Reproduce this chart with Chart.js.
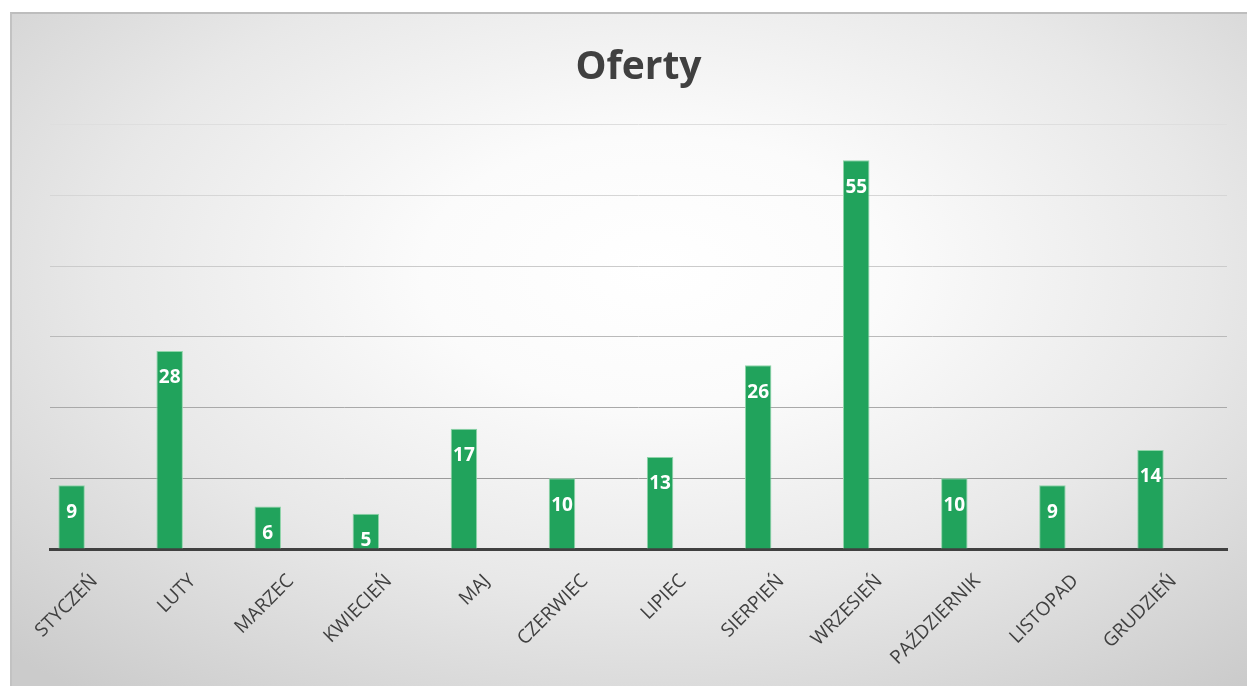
<!DOCTYPE html>
<html>
<head>
<meta charset="utf-8">
<script src="https://cdn.jsdelivr.net/npm/chart.js@4/dist/chart.umd.min.js"></script>
<style>
    body { margin: 0; background: #fff; }
    .chart-box {
        position: absolute;
        left: 10px;
        top: 12px;
        width: 1235px;
        height: 672px;
        border-top: 2px solid #bdbdbd;
        border-left: 2px solid #c2c2c2;
        background: radial-gradient(ellipse 75% 80% at 52% 38%, #ffffff 0%, #fbfbfb 25%, #e8e8e8 60%, #cbcbcb 100%);
    }
</style>
</head>
<body>
<div class="chart-box">
    <canvas id="ofertyChart" width="1235" height="672"></canvas>
</div>
<script>
const months = ['STYCZEŃ', 'LUTY', 'MARZEC', 'KWIECIEŃ', 'MAJ', 'CZERWIEC', 'LIPIEC', 'SIERPIEŃ', 'WRZESIEŃ', 'PAŹDZIERNIK', 'LISTOPAD', 'GRUDZIEŃ'];
const offers = [9, 28, 6, 5, 17, 10, 13, 26, 55, 10, 9, 14];
const yTicks = [0, 10, 20, 30, 40, 50, 60];

// gridlines get darker towards the bottom, like in the original
const gridColors = { 10: '#9a9a9a', 20: '#a9a9a9', 30: '#bababa', 40: '#cbcbcb', 50: '#d6d6d6', 60: '#dedede' };

// values inside the top of each bar
const barValuesPlugin = {
    id: 'barValues',
    afterDatasetsDraw(chart) {
        const { ctx } = chart;
        const meta = chart.getDatasetMeta(0);
        ctx.save();
        ctx.font = 'bold 19px "Open Sans"';
        ctx.fillStyle = '#ffffff';
        ctx.textAlign = 'center';
        ctx.textBaseline = 'middle';
        meta.data.forEach((bar, i) => {
            ctx.fillText(offers[i], bar.x, bar.y + 27);
        });
        ctx.restore();
    }
};

// rotated month names, drawn by hand so they don't push the chart area around
const monthLabelsPlugin = {
    id: 'monthLabels',
    afterDraw(chart) {
        const { ctx, scales: { x, y } } = chart;
        const base = y.getPixelForValue(0);
        ctx.save();
        ctx.font = '19px "Open Sans"';
        ctx.fillStyle = '#404040';
        ctx.textAlign = 'right';
        ctx.textBaseline = 'middle';
        months.forEach((m, i) => {
            ctx.save();
            ctx.translate(x.getPixelForValue(i) + 23, base + 29);
            ctx.rotate(-Math.PI / 4);
            ctx.fillText(m, 0, 0);
            ctx.restore();
        });
        ctx.restore();
    }
};

const ctx = document.getElementById('ofertyChart').getContext('2d');
new Chart(ctx, {
    type: 'bar',
    data: {
        datasets: [{
            data: offers.map((v, i) => ({ x: i, y: v })),
            backgroundColor: '#21a35c',
            borderColor: '#8fd4a9',
            borderWidth: 1,
            categoryPercentage: 1,
            barPercentage: 0.27
        }]
    },
    options: {
        responsive: false,
        animation: false,
        layout: { padding: { left: 38, right: 20, top: 0, bottom: 0 } },
        plugins: {
            legend: { display: false },
            tooltip: { enabled: false },
            title: {
                display: true,
                text: 'Oferty',
                color: '#404040',
                font: { family: 'Open Sans', size: 39, weight: 'bold' },
                padding: { top: 30, bottom: 34 }
            }
        },
        scales: {
            x: {
                type: 'linear',
                offset: false,
                min: -0.22,
                max: 11.78,
                grid: { display: false },
                border: { display: true, color: '#404040', width: 3 },
                ticks: { display: false },
                afterFit: (scale) => { scale.height = 137; }
            },
            y: {
                min: 0,
                max: 60,
                afterBuildTicks: (scale) => { scale.ticks = yTicks.map(v => ({ value: v })); },
                afterFit: (scale) => { scale.width = 0; },
                border: { display: false },
                grid: {
                    drawTicks: false,
                    lineWidth: 1,
                    color: (c) => gridColors[c.tick.value] || 'rgba(0,0,0,0)'
                },
                ticks: { display: false }
            }
        }
    },
    plugins: [barValuesPlugin, monthLabelsPlugin]
});
</script>
</body>
</html>
